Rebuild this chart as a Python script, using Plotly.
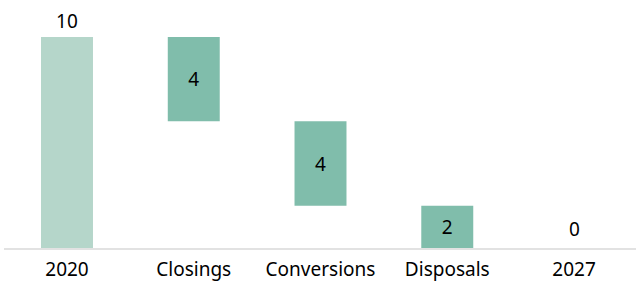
import plotly.graph_objects as go

categories = ["2020", "Closings", "Conversions", "Disposals", "2027"]
values = [10, -4, -4, -2, 0]
measures = ["absolute", "relative", "relative", "relative", "total"]
labels = ["10", "4", "4", "2", "0"]
label_pos = ["outside", "inside", "inside", "inside", "outside"]

LIGHT = "#b5d6ca"
DARK = "#80bdab"
FONT = "Noto Sans"
TXT = dict(family=FONT, size=19, color="#000000")

# the zero-height total gets its label as an annotation (slightly higher offset)
bar_text = labels[:-1] + [""]

fig = go.Figure(go.Waterfall(
    x=categories,
    y=values,
    measure=measures,
    text=bar_text,
    texttemplate="%{text}",
    textposition=label_pos,
    insidetextanchor="middle",
    textfont=TXT,
    outsidetextfont=TXT,
    insidetextfont=TXT,
    constraintext="none",
    cliponaxis=False,
    width=[0.41] * len(categories),
    increasing=dict(marker=dict(color=DARK)),
    decreasing=dict(marker=dict(color=DARK)),
    totals=dict(marker=dict(color=LIGHT)),
    connector=dict(visible=False),
    hoverinfo="skip",
))

fig.add_annotation(x=len(categories) - 1, y=sum(values), text=labels[-1],
                   showarrow=False, yanchor="bottom", yshift=4, font=TXT)

fig.update_layout(
    width=636, height=282,
    margin=dict(l=4, r=0, t=0, b=34, autoexpand=False),
    paper_bgcolor="white", plot_bgcolor="white",
    showlegend=False,
    font=TXT,
    xaxis=dict(type="category", range=[-0.497, 4.489], showgrid=False,
               showline=True, linecolor="#e2e2e2", linewidth=2, ticks="",
               automargin=False, ticklabelstandoff=3, tickfont=TXT,
               fixedrange=True),
    yaxis=dict(range=[0, 11.75], visible=False, showgrid=False, zeroline=False,
               fixedrange=True, automargin=False),
)

fig.write_html("out.html", config={"displayModeBar": False},
               post_script="document.body.style.margin='0';")
